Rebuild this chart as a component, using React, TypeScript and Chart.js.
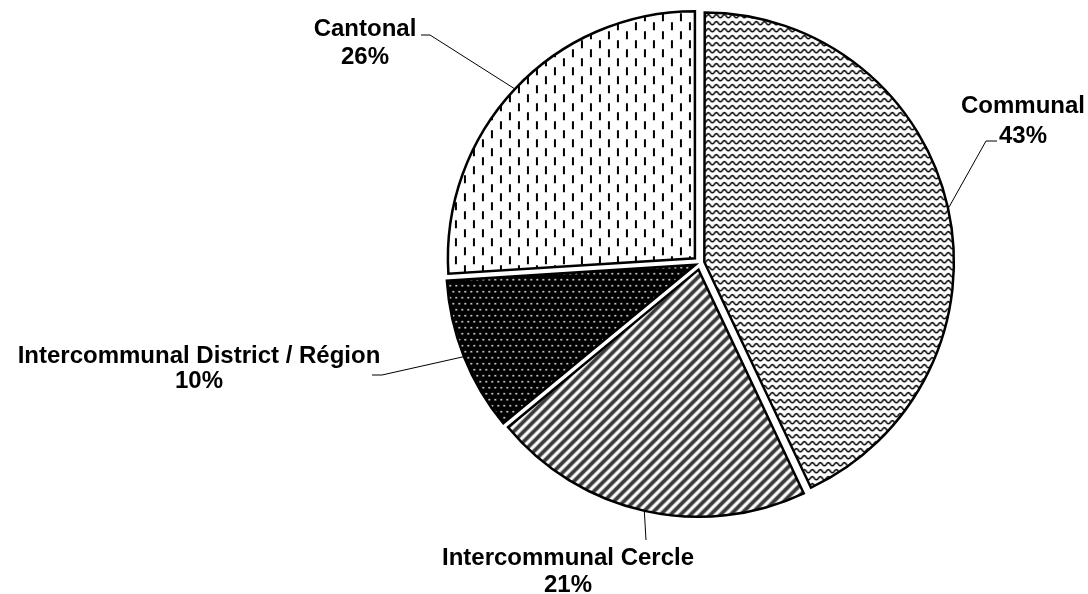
import React, { useEffect, useRef } from 'react';
import { Chart, registerables } from 'chart.js';

Chart.register(...registerables);

const categories = ['Communal', 'Intercommunal Cercle', 'Intercommunal District / Région', 'Cantonal'];
const shares = [43, 21, 10, 26];
const shareLabels = ['43%', '21%', '10%', '26%'];

// label layout relative to the pie centre (text centre x, first baseline y, line gap, leader elbow, leader end)
const labelLayout = [
  { dx: 323, dy: -150, gap: 30, elbow: [286, -122], end: [297, -122] },
  { dx: -132, dy: 302, gap: 27, elbow: [-54, 277], end: [-54, 277] },
  { dx: -501, dy: 100, gap: 25, elbow: [-318, 112], end: [-328, 112] },
  { dx: -335, dy: -227, gap: 28, elbow: [-270, -228], end: [-279, -228] },
];

const EXPLODE = 7;

function makePattern(kind: string): CanvasPattern | string {
  const c = document.createElement('canvas');
  let ctx: CanvasRenderingContext2D;
  if (kind === 'wave') {
    c.width = 8; c.height = 7;
    ctx = c.getContext('2d')!;
    ctx.fillStyle = '#fff'; ctx.fillRect(0, 0, 8, 7);
    ctx.strokeStyle = '#000'; ctx.lineWidth = 1.5;
    ctx.beginPath();
    for (let x = -1; x <= 9; x += 0.5) {
      const y = 3.2 - 1.6 * Math.cos((2 * Math.PI * x) / 8);
      if (x === -1) ctx.moveTo(x, y); else ctx.lineTo(x, y);
    }
    ctx.stroke();
  } else if (kind === 'stripe') {
    const s = 10;
    c.width = s; c.height = s;
    ctx = c.getContext('2d')!;
    ctx.fillStyle = '#fff'; ctx.fillRect(0, 0, s, s);
    ctx.strokeStyle = '#3a3a3a'; ctx.lineWidth = 3.8;
    ctx.beginPath();
    ctx.moveTo(-1, s + 1); ctx.lineTo(s + 1, -1);
    ctx.moveTo(-s / 2 - 1, s / 2 + 1); ctx.lineTo(s / 2 + 1, -s / 2 - 1);
    ctx.moveTo(s / 2 - 1, s * 1.5 + 1); ctx.lineTo(s * 1.5 + 1, s / 2 - 1);
    ctx.stroke();
  } else if (kind === 'dots') {
    c.width = 6; c.height = 12;
    ctx = c.getContext('2d')!;
    ctx.fillStyle = '#000'; ctx.fillRect(0, 0, 6, 12);
    ctx.fillStyle = '#fff';
    ctx.fillRect(1, 1, 1.6, 1.6);
    ctx.fillRect(4, 7, 1.6, 1.6);
  } else {
    c.width = 18; c.height = 18;
    ctx = c.getContext('2d')!;
    ctx.fillStyle = '#fff'; ctx.fillRect(0, 0, 18, 18);
    ctx.fillStyle = '#000';
    ctx.fillRect(1, 0, 2, 8);
    ctx.fillRect(10, 9, 2, 8);
  }
  return ctx.createPattern(c, 'repeat') || '#fff';
}

function offsetFor(ctx: any): number {
  const data = ctx.chart.data.datasets[0].data as number[];
  const total = data.reduce((a, b) => a + b, 0);
  const circ = ((data[ctx.dataIndex] as number) / total) * Math.PI * 2;
  const fix = 1 - Math.sin(Math.min(Math.PI, circ));
  return (4 * EXPLODE) / (1 + fix);
}

const labelPlugin = {
  id: 'pieLabels',
  afterDatasetsDraw(chart: any) {
    const ctx: CanvasRenderingContext2D = chart.ctx;
    const meta = chart.getDatasetMeta(0);
    ctx.save();
    meta.data.forEach((arc: any, i: number) => {
      const { x, y, startAngle, endAngle, outerRadius, circumference } = arc.getProps(
        ['x', 'y', 'startAngle', 'endAngle', 'outerRadius', 'circumference'], true);
      const mid = (startAngle + endAngle) / 2;
      const off = (arc.options.offset || 0) / 4;
      const fix = 1 - Math.sin(Math.min(Math.PI, circumference || 0));
      const t = off * (1 + fix);
      const ax = x + Math.cos(mid) * (t + outerRadius + 1);
      const ay = y + Math.sin(mid) * (t + outerRadius + 1);
      const L = labelLayout[i];
      ctx.strokeStyle = '#000';
      ctx.lineWidth = 1;
      ctx.beginPath();
      ctx.moveTo(ax, ay);
      ctx.lineTo(x + L.elbow[0], y + L.elbow[1]);
      ctx.lineTo(x + L.end[0], y + L.end[1]);
      ctx.stroke();
      ctx.fillStyle = '#000';
      ctx.font = 'bold 24px "Liberation Sans", Arial, sans-serif';
      ctx.textAlign = 'center';
      ctx.textBaseline = 'alphabetic';
      ctx.fillText(categories[i], x + L.dx, y + L.dy);
      ctx.fillText(shareLabels[i], x + L.dx, y + L.dy + L.gap);
    });
    ctx.restore();
  },
};

export default function App() {
  const ref = useRef<HTMLCanvasElement>(null);
  useEffect(() => {
    if (!ref.current) return;
    const patterns = [makePattern('wave'), makePattern('stripe'), makePattern('dots'), makePattern('dash')];
    const chart = new Chart(ref.current, {
      type: 'pie',
      data: {
        labels: categories,
        datasets: [
          {
            data: shares,
            backgroundColor: patterns as any,
            borderColor: '#000',
            borderWidth: 2.5,
            borderJoinStyle: 'miter' as any,
            offset: offsetFor as any,
            radius: 247 as any,
          } as any,
        ],
      },
      options: {
        animation: false,
        responsive: true,
        maintainAspectRatio: false,
        events: [],
        layout: { padding: { left: 312, right: 0, top: 0, bottom: 68 } },
        plugins: { legend: { display: false }, tooltip: { enabled: false } },
      },
      plugins: [labelPlugin],
    });
    return () => chart.destroy();
  }, []);
  return (
    <div style={{ position: 'fixed', left: 0, top: 0, width: 1088, height: 594, background: '#fff' }}>
      <canvas ref={ref} />
    </div>
  );
}
